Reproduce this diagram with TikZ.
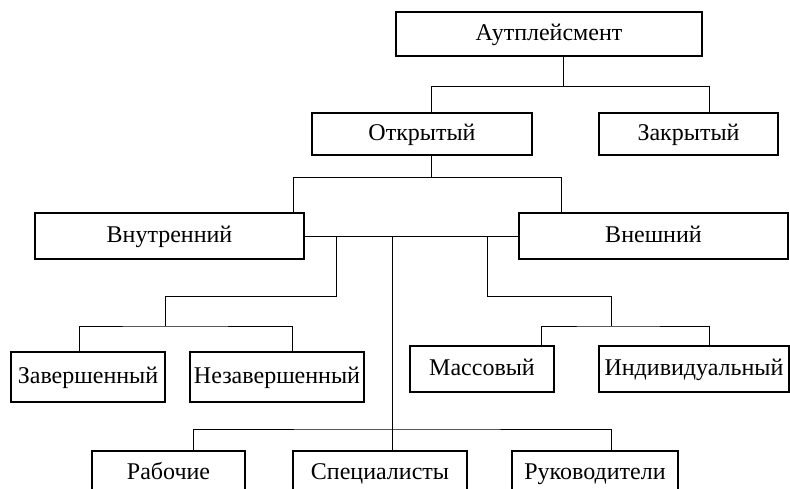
\documentclass[tikz,border=0pt]{standalone}
\usepackage{fontspec}
\setmainfont{Liberation Serif}
\usepackage{tikz}
\usetikzlibrary{positioning, calc}

\begin{document}
\begin{tikzpicture}[x=1pt, y=-1pt, line width=1pt,
    box/.style={draw, line width=1.2pt, inner sep=0pt, align=center,
                text height=16pt, text depth=4pt,
                font=\fontsize{24}{28}\selectfont}]
    \useasboundingbox (0,0) rectangle (790,488);

    % levels 1-2
    \node[box, minimum width=306, minimum height=44] (aut) at (549,34) {Аутплейсмент};
    \node[box, minimum width=220, minimum height=42] (open) at (422,134) {Открытый};
    \node[box, minimum width=179, minimum height=42] (closed) at (688.5,134) {Закрытый};

    % level 3
    \node[box, minimum width=269, minimum height=46] (inner) at (169.5,236) {Внутренний};
    \node[box, minimum width=269, minimum height=46] (outer) at (653.5,236) {Внешний};

    % level 4
    \node[box, minimum width=154, minimum height=50] (done) at (88,377) {Завершенный};
    \node[box, minimum width=174, minimum height=50] (undone) at (277,377) {Незавершенный};
    \node[box, minimum width=144, minimum height=46] (mass) at (482,369) {Массовый};
    \node[box, minimum width=190, minimum height=46] (indiv) at (694,369) {Индивидуальный};

    % level 5
    \node[box, minimum width=153, minimum height=44] (workers) at (168.5,473) {Рабочие};
    \node[box, minimum width=174, minimum height=44] (spec) at (380,473) {Специалисты};
    \node[box, minimum width=166, minimum height=44] (heads) at (595,473) {Руководители};

    \coordinate (jl) at (336,296);
    \coordinate (jl2) at (165,326);
    \coordinate (jr) at (487,296);
    \coordinate (jr2) at (611,326);
    \coordinate (jm) at (392,429);

    \draw ([xshift=14pt]aut.south) -- ++(0,30) coordinate (ja);
    \draw ([xshift=9pt]open.north) |- (ja) -| ([xshift=20.5pt]closed.north);

    \draw ([xshift=9pt]open.south) -- ++(0,22) coordinate (jb);
    \draw ([xshift=123.5pt]inner.north) |- (jb) -| ([xshift=-92.5pt]outer.north);

    \draw (inner.east) -- (outer.west);

    \draw (inner.east -| jl) -- (jl) -| (jl2);
    \draw ([xshift=-9pt]done.north) |- (jl2) -| ([xshift=15pt]undone.north);

    \draw (inner.east -| jr) -- (jr) -| (jr2);
    \draw ([xshift=59pt]mass.north) |- (jr2) -| ([xshift=15pt]indiv.north);

    \draw (inner.east -| jm) -- (spec.north -| jm);
    \draw ([xshift=24.5pt]workers.north) |- (jm) -| ([xshift=16pt]heads.north);
\end{tikzpicture}
\end{document}
